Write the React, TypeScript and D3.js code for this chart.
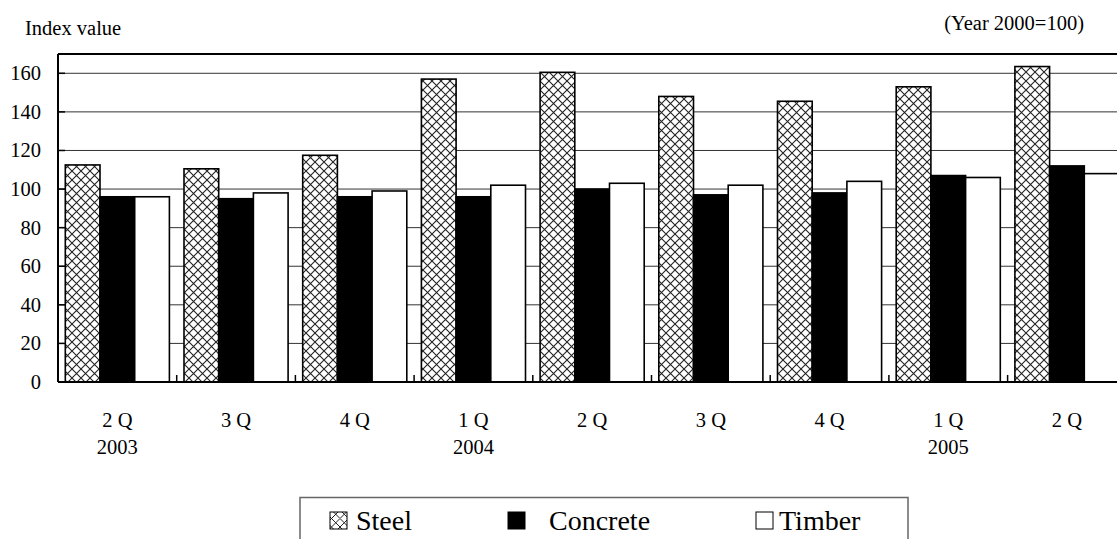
import React from "react";
import * as d3 from "d3";

// Quarterly construction material price index (Year 2000 = 100)
const quarters = ["2 Q", "3 Q", "4 Q", "1 Q", "2 Q", "3 Q", "4 Q", "1 Q", "2 Q"];
const years = ["2003", "", "", "2004", "", "", "", "2005", ""];
const seriesNames = ["Steel", "Concrete", "Timber"];
const steel = [112.5, 110.5, 117.5, 157, 160.5, 148, 145.5, 153, 163.5];
const concrete = [96, 95, 96, 96, 100, 97, 98, 107, 112];
const timber = [96, 98, 99, 102, 103, 102, 104, 106, 108];
const yTicks = [0, 20, 40, 60, 80, 100, 120, 140, 160];

const W = 1117;
const H = 539;
const FONT = '"Liberation Serif", "Times New Roman", Times, serif';

export default function App() {
  const left = 58;
  const top = 54;
  const bottom = 382;
  const catW = 118.7;
  const keys = quarters.map((_, i) => String(i));

  const x = d3
    .scaleBand<string>()
    .domain(keys)
    .range([left, left + catW * quarters.length])
    .paddingInner(0)
    .paddingOuter(0);
  const xs = d3
    .scaleBand<string>()
    .domain(seriesNames)
    .range([7.3, catW - 7.3])
    .padding(0);
  const y = d3.scaleLinear().domain([0, 170]).range([bottom, top]);

  const data = [steel, concrete, timber];
  const fills = ["url(#steelHatch)", "#000", "#fff"];
  const txt: React.CSSProperties = { fontFamily: FONT };

  return (
    <svg
      width={W}
      height={H}
      style={{ position: "absolute", left: 0, top: 0, background: "#fff", fontFamily: FONT }}
    >
      <defs>
        <pattern id="steelHatch" width={9} height={9} patternUnits="userSpaceOnUse">
          <rect width={9} height={9} fill="#fff" />
          <path d="M0,0 L9,9 M9,0 L0,9" stroke="#222" strokeWidth={1.1} />
        </pattern>
        <pattern id="steelIcon" width={17} height={17} patternUnits="userSpaceOnUse">
          <rect width={17} height={17} fill="#fff" />
          <path d="M0,0 L17,17 M17,0 L0,17 M8.5,0 L17,8.5 L8.5,17 L0,8.5 Z" stroke="#222" strokeWidth={1} fill="none" />
        </pattern>
      </defs>

      {/* Titles */}
      <text x={25} y={35} fontSize={20.5} fill="#000" style={txt}>Index value</text>
      <text x={1084} y={30} fontSize={20.5} textAnchor="end" fill="#000" style={txt}>(Year 2000=100)</text>

      {/* Gridlines */}
      {yTicks.filter((t) => t > 0).map((t) => (
        <line key={"g" + t} x1={left} x2={W} y1={y(t)} y2={y(t)} stroke="#333" strokeWidth={1} />
      ))}

      {/* Bars */}
      {data.map((vals, si) =>
        vals.map((v, i) => (
          <rect
            key={si + "-" + i}
            x={(x(String(i)) as number) + (xs(seriesNames[si]) as number)}
            y={y(v)}
            width={xs.bandwidth()}
            height={bottom - y(v)}
            fill={fills[si]}
            stroke="#000"
            strokeWidth={1.6}
          />
        ))
      )}

      {/* Plot frame: top border, left axis, baseline */}
      <line x1={left} x2={W} y1={top} y2={top} stroke="#000" strokeWidth={2} />
      <line x1={left} x2={left} y1={top} y2={bottom} stroke="#000" strokeWidth={2} />
      <line x1={left} x2={W} y1={bottom} y2={bottom} stroke="#000" strokeWidth={2} />

      {/* Y ticks and labels */}
      {yTicks.map((t) => (
        <g key={"y" + t}>
          <line x1={left} x2={left + 7} y1={y(t)} y2={y(t)} stroke="#000" strokeWidth={1.5} />
          <text x={41} y={y(t) + 7} fontSize={20.5} textAnchor="end" fill="#000" style={txt}>
            {t}
          </text>
        </g>
      ))}

      {/* Category boundary ticks */}
      {keys.map((k, i) =>
        i === 0 ? null : (
          <line
            key={"xt" + k}
            x1={x(k) as number}
            x2={x(k) as number}
            y1={bottom}
            y2={bottom - 7}
            stroke="#000"
            strokeWidth={1.5}
          />
        )
      )}

      {/* Category labels */}
      {keys.map((k, i) => {
        const cx = (x(k) as number) + x.bandwidth() / 2;
        return (
          <g key={"xl" + k}>
            <text x={cx} y={427} fontSize={20.5} textAnchor="middle" fill="#000" style={txt}>
              {quarters[i]}
            </text>
            {years[i] && (
              <text x={cx} y={454} fontSize={20.5} textAnchor="middle" fill="#000" style={txt}>
                {years[i]}
              </text>
            )}
          </g>
        );
      })}

      {/* Legend */}
      <rect x={300} y={497.5} width={608} height={60} fill="#fff" stroke="#666" strokeWidth={1.5} />
      <rect x={330} y={512} width={17} height={17} fill="url(#steelIcon)" stroke="#000" strokeWidth={1} />
      <text x={356} y={530} fontSize={28} fill="#000" style={txt}>Steel</text>
      <rect x={508} y={512} width={17} height={17} fill="#000" stroke="#000" strokeWidth={1} />
      <text x={549} y={530} fontSize={28} fill="#000" style={txt}>Concrete</text>
      <rect x={756} y={512} width={17} height={17} fill="#fff" stroke="#000" strokeWidth={1} />
      <text x={779} y={530} fontSize={28} fill="#000" style={txt}>Timber</text>
    </svg>
  );
}
